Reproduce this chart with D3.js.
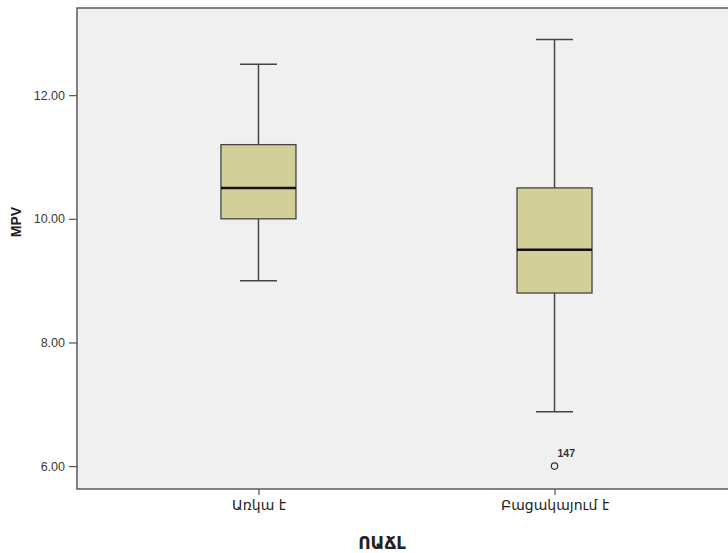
<!DOCTYPE html>
<html>
<head>
<meta charset="utf-8">
<script src="https://cdn.jsdelivr.net/npm/d3@7"></script>
<style>
  body { margin: 0; background: #fff; }
  svg { display: block; }
</style>
</head>
<body>
<div id="chart"></div>
<script>
// chart data
const categories = ["Առկա է", "Բացակայում է"];
const whiskerLow = [9.0, 6.88];
const q1 = [10.0, 8.8];
const median = [10.5, 9.5];
const q3 = [11.2, 10.5];
const whiskerHigh = [12.5, 12.9];
const outlierGroup = ["Բացակայում է"];
const outlierValue = [6.0];
const outlierLabel = ["147"];
const yTicks = [6, 8, 10, 12];

const width = 728, height = 553;
const margin = {top: 8, right: -8, bottom: 64, left: 77};

let svg = d3.select("#chart")
    .append("svg")
    .attr("width", width)
    .attr("height", height);

let plotW = width - margin.left - margin.right;
let plotH = height - margin.top - margin.bottom;

let x = d3.scalePoint()
    .domain(categories)
    .range([0, plotW])
    .padding(0.613);

let y = d3.scaleLinear()
    .domain([5.63, 13.41])
    .range([plotH, 0]);

let g = svg.append("g")
    .attr("transform", `translate(${margin.left},${margin.top})`);

// plot background
g.append("rect")
    .attr("width", plotW)
    .attr("height", plotH)
    .attr("fill", "#f0f0f0")
    .attr("stroke", "#5a5a5a")
    .attr("stroke-width", 1.5);

// y axis
let yAxis = g.append("g")
    .call(d3.axisLeft(y).tickValues(yTicks).tickFormat(d3.format(".2f")).tickSize(8).tickSizeOuter(0));
yAxis.select(".domain").remove();
yAxis.selectAll("line").attr("stroke", "#555").attr("stroke-width", 1.2);
yAxis.selectAll("text")
    .attr("font-family", "Liberation Sans, Arial, sans-serif")
    .attr("font-size", 12.5)
    .attr("fill", "#3a3a3a")
    .attr("dx", "-1");

// x axis
let xAxis = g.append("g")
    .attr("transform", `translate(0,${plotH})`)
    .call(d3.axisBottom(x).tickSize(6).tickSizeOuter(0).tickPadding(5));
xAxis.select(".domain").remove();
xAxis.selectAll("line").attr("stroke", "#555").attr("stroke-width", 1.2);
xAxis.selectAll("text")
    .attr("font-family", "DejaVu Sans, sans-serif")
    .attr("font-size", 14)
    .attr("fill", "#222");

// axis titles
svg.append("text")
    .attr("transform", "translate(21,222) rotate(-90)")
    .attr("text-anchor", "middle")
    .attr("font-family", "Liberation Sans, Arial, sans-serif")
    .attr("font-weight", "bold")
    .attr("font-size", 14)
    .attr("fill", "#222")
    .text("MPV");

svg.append("text")
    .attr("x", 382)
    .attr("y", 549)
    .attr("text-anchor", "middle")
    .attr("font-family", "DejaVu Sans, sans-serif")
    .attr("font-weight", "bold")
    .attr("font-size", 17)
    .attr("fill", "#222")
    .text("ՈԱՃԼ");

// boxes
const boxW = 75, capW = 37;
let boxes = g.selectAll(".box")
    .data(categories)
    .enter().append("g")
    .attr("class", "box");

boxes.append("line")
    .attr("x1", d => x(d)).attr("x2", d => x(d))
    .attr("y1", (d, i) => y(whiskerHigh[i]))
    .attr("y2", (d, i) => y(q3[i]))
    .attr("stroke", "#444").attr("stroke-width", 1.5);
boxes.append("line")
    .attr("x1", d => x(d)).attr("x2", d => x(d))
    .attr("y1", (d, i) => y(q1[i]))
    .attr("y2", (d, i) => y(whiskerLow[i]))
    .attr("stroke", "#444").attr("stroke-width", 1.5);
// caps
boxes.append("line")
    .attr("x1", d => x(d) - capW / 2).attr("x2", d => x(d) + capW / 2)
    .attr("y1", (d, i) => y(whiskerHigh[i]))
    .attr("y2", (d, i) => y(whiskerHigh[i]))
    .attr("stroke", "#444").attr("stroke-width", 1.5);
boxes.append("line")
    .attr("x1", d => x(d) - capW / 2).attr("x2", d => x(d) + capW / 2)
    .attr("y1", (d, i) => y(whiskerLow[i]))
    .attr("y2", (d, i) => y(whiskerLow[i]))
    .attr("stroke", "#444").attr("stroke-width", 1.5);

boxes.append("rect")
    .attr("x", d => x(d) - boxW / 2)
    .attr("width", boxW)
    .attr("y", (d, i) => y(q3[i]))
    .attr("height", (d, i) => y(q1[i]) - y(q3[i]))
    .attr("fill", "#d3cf98")
    .attr("stroke", "#444")
    .attr("stroke-width", 1.3);

boxes.append("line")
    .attr("x1", d => x(d) - boxW / 2).attr("x2", d => x(d) + boxW / 2)
    .attr("y1", (d, i) => y(median[i]))
    .attr("y2", (d, i) => y(median[i]))
    .attr("stroke", "#111").attr("stroke-width", 2.5);

// outliers
outlierGroup.forEach((c, i) => {
    g.append("circle")
        .attr("cx", x(c))
        .attr("cy", y(outlierValue[i]))
        .attr("r", 3.2)
        .attr("fill", "none")
        .attr("stroke", "#333")
        .attr("stroke-width", 1.2);
    g.append("text")
        .attr("x", x(c) + 3)
        .attr("y", y(outlierValue[i]) - 9)
        .attr("font-family", "Liberation Sans, Arial, sans-serif")
        .attr("font-weight", "bold")
        .attr("font-size", 10.5)
        .attr("fill", "#333")
        .text(outlierLabel[i]);
});
</script>
</body>
</html>
